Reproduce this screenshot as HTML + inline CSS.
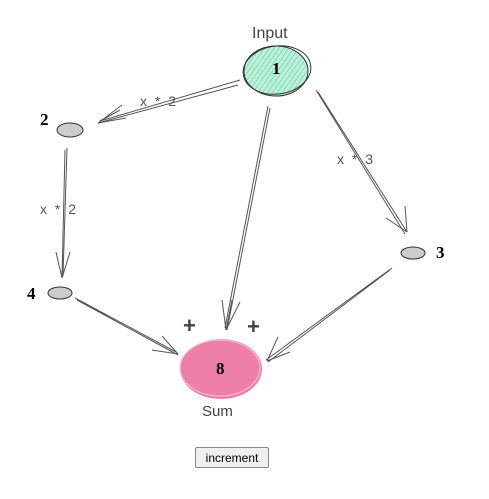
<!DOCTYPE html>
<html><head><meta charset="utf-8"><style>
html,body{margin:0;padding:0;background:#fff;width:489px;height:499px;overflow:hidden}
svg{position:absolute;left:0;top:0}
button{position:absolute;left:195px;top:447px;width:74px;height:21px;font:12px "Liberation Sans",sans-serif;background:#efefef;border:1px solid #888;border-radius:2px;padding:0}
</style></head><body>
<svg width="489" height="499" viewBox="0 0 489 499">
<defs>
<pattern id="h" width="4" height="4" patternUnits="userSpaceOnUse" patternTransform="rotate(35)">
<rect width="4" height="4" fill="#bff0dc"/><line x1="0" y1="0" x2="0" y2="4" stroke="#3ccf95" stroke-width="1"/></pattern>
</defs>
<g font-family="Liberation Sans, sans-serif" fill="#555" font-size="14">
<text x="252" y="38" font-size="16" fill="#444">Input</text>
<text x="140" y="106" letter-spacing="2">x * 2</text>
<text x="337" y="164" letter-spacing="2">x * 3</text>
<text x="40" y="214" letter-spacing="2">x * 2</text>
<text x="202" y="416" font-size="15" fill="#444">Sum</text>
<text x="183" y="333" font-size="22" font-weight="bold" fill="#444">+</text>
<text x="247" y="334" font-size="22" font-weight="bold" fill="#444">+</text>
</g>
<!-- input node -->
<ellipse cx="276" cy="71" rx="32" ry="25" fill="url(#h)" stroke="#333" stroke-width="1"/>
<ellipse cx="277" cy="70" rx="34" ry="24" fill="none" stroke="#333" stroke-width="1" transform="rotate(-8 277 70)"/>
<!-- sum node -->
<ellipse cx="221" cy="369" rx="41" ry="30" fill="#ee7fa8"/>
<ellipse cx="220" cy="368" rx="40" ry="28" fill="none" stroke="#f8c3d6" stroke-width="1"/>
<!-- small nodes -->
<ellipse cx="70" cy="130" rx="13" ry="7" fill="#ccc" stroke="#333"/>
<ellipse cx="60" cy="293" rx="12" ry="6" fill="#ccc" stroke="#333"/>
<ellipse cx="413" cy="253" rx="12" ry="6" fill="#ccc" stroke="#333"/>
<g stroke="#555" stroke-width="1" fill="none">
<path d="M238 85 L98 123 M240 80 L100 121"/>
<path d="M98 123 L122 105 M98 123 L126 118 M100 121 L120 110"/>
<path d="M318 92 L407 232 M316 90 L405 234"/>
<path d="M407 232 L405 206 M407 232 L386 218"/>
<path d="M67 148 L63 276 M65 150 L62 278"/>
<path d="M62 278 L56 252 M62 278 L70 252"/>
<path d="M268 106 L225 328 M270 108 L227 330"/>
<path d="M226 330 L222 300 M226 330 L240 302 M226 330 L232 300"/>
<path d="M75 298 L176 352 M77 300 L178 355"/>
<path d="M178 354 L152 350 M178 354 L162 336"/>
<path d="M392 268 L266 360 M390 270 L268 362"/>
<path d="M267 361 L278 337 M267 361 L290 352"/>
</g>
<g font-family="Liberation Serif, serif" font-weight="bold" font-size="17" fill="#000">
<text x="272" y="74">1</text>
<text x="40" y="125">2</text>
<text x="436" y="258">3</text>
<text x="27" y="299">4</text>
<text x="216" y="374">8</text>
</g>
</svg>
<button>increment</button>
</body></html>
